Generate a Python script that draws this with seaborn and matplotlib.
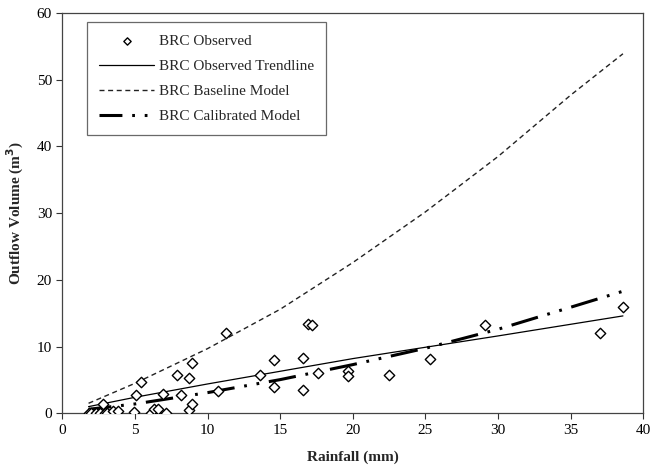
import numpy as np
import pandas as pd
import matplotlib
matplotlib.use('Agg')
import matplotlib.pyplot as plt
import seaborn as sns

# Observed events: rainfall (mm) vs outflow volume (m3)
rain_obs = [1.8, 2.0, 2.3, 2.6, 2.8, 2.9, 3.1, 3.5, 3.8, 4.9, 5.1, 5.4, 6.1, 6.3, 6.6,
            6.9, 7.1, 7.9, 8.2, 8.7, 8.9, 8.7, 8.95, 10.7, 11.25, 13.6, 14.6, 14.6,
            16.6, 16.6, 16.9, 17.2, 17.6, 19.7, 19.7, 22.5, 25.3, 29.1, 37.0, 38.6]
vol_obs = [0.1, 0.1, 0.1, 0.1, 1.35, 0.1, 0.1, 0.35, 0.35, 0.2, 2.7, 4.7, 0.1, 0.6, 0.7,
           2.9, 0.0, 5.7, 2.7, 5.25, 7.5, 0.5, 1.4, 3.3, 12.1, 5.8, 8.0, 4.0,
           8.3, 3.5, 13.4, 13.3, 6.1, 6.3, 5.6, 5.7, 8.1, 13.3, 12.1, 16.0]

# trendline
rain_trend = [1.8, 5, 10, 20, 30, 38.6]
vol_trend = [1.0, 2.4, 4.4, 8.2, 11.6, 14.6]

# baseline model
rain_base = [1.8, 5, 10, 15, 20, 25, 30, 35, 38.6]
vol_base = [1.5, 4.5, 9.7, 15.6, 22.6, 30.2, 38.5, 47.7, 53.9]

# calibrated model
rain_cal = [1.8, 5, 10, 15, 20, 25, 30, 35, 38.6]
vol_cal = [0.6, 1.4, 3.1, 5.05, 7.3, 9.75, 12.6, 15.9, 18.3]

sns.set_style('ticks')
plt.rcParams['font.family'] = ['Liberation Serif', 'DejaVu Serif']

fig = plt.figure(figsize=(6.53, 4.67), dpi=100)
ax = fig.add_axes([0.0956, 0.115, 0.8895, 0.857])

sns.scatterplot(x=rain_obs, y=vol_obs, marker='D', s=28, facecolor='white',
                edgecolor='black', linewidth=1.0, zorder=3, ax=ax,
                label='BRC Observed')
sns.lineplot(x=rain_trend, y=vol_trend, color='black', linewidth=0.9, ax=ax,
             label='BRC Observed Trendline')
sns.lineplot(x=rain_base, y=vol_base, color='#222222', linewidth=1.0, ax=ax,
             label='BRC Baseline Model')
sns.lineplot(x=rain_cal, y=vol_cal, color='black', linewidth=2.2, ax=ax,
             label='BRC Calibrated Model')

lines = ax.get_lines()
lines[1].set_linestyle((0, (3.6, 2.6)))
lines[2].set_linestyle((1.5, (9, 3.2, 0.9, 3.2, 0.9, 3.2)))
lines[2].set_dash_capstyle('butt')

ax.set_xlim(0, 40)
ax.set_ylim(0, 60)
ax.set_xticks(range(0, 41, 5))
ax.set_yticks(range(0, 61, 10))
ax.tick_params(direction='out', length=4, width=0.8, labelsize=11, colors='#333333',
               labelcolor='black')
for sp in ax.spines.values():
    sp.set_visible(True)
    sp.set_linewidth(0.9)
    sp.set_color('#444444')

ax.set_xlabel('Rainfall (mm)', fontsize=11, fontweight='bold', labelpad=10)
ax.set_ylabel('Outflow Volume (m$^\\mathbf{3}$)', fontsize=11, fontweight='bold', labelpad=8)

leg = ax.legend(loc='upper left', bbox_to_anchor=(0.042, 0.978), fontsize=11,
                frameon=True, fancybox=False, edgecolor='#444444', handlelength=3.6,
                labelspacing=0.75, borderpad=0.8, handletextpad=0.3, borderaxespad=0,
                markerscale=0.7)
leg.get_frame().set_linewidth(0.9)

plt.savefig('out.png', dpi=100)
